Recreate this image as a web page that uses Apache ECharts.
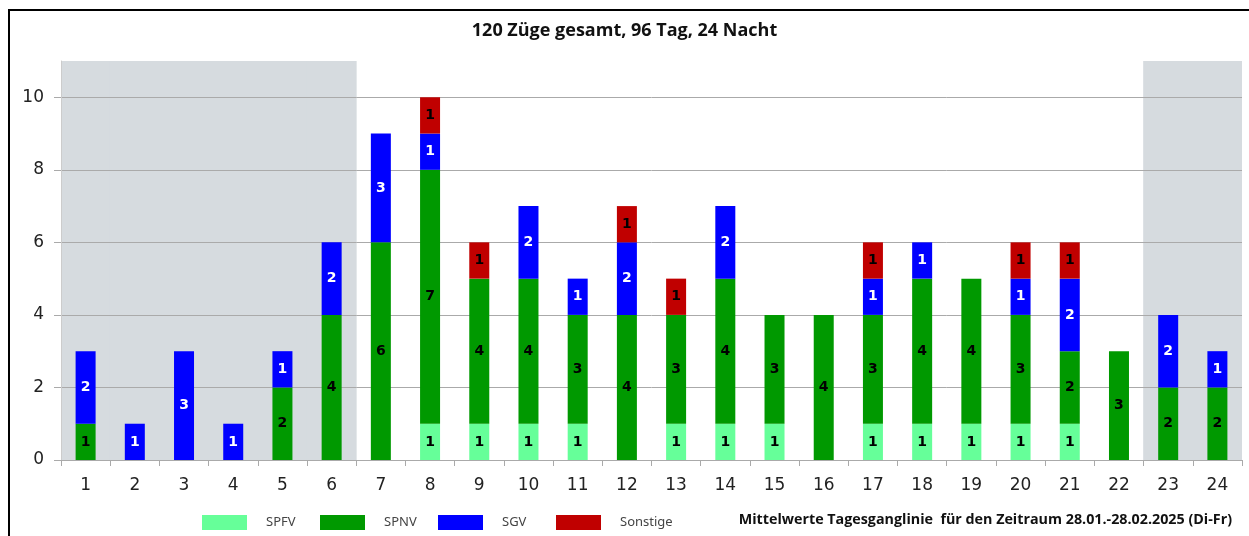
<!DOCTYPE html>
<html>
<head>
<meta charset="utf-8">
<script src="https://cdn.jsdelivr.net/npm/echarts@6/dist/echarts.min.js"></script>
<style>
  html, body { margin: 0; padding: 0; background: #fff; }
  #chart { width: 1249px; height: 536px; }
</style>
</head>
<body>
<div id="chart"></div>
<script>
// hours of the day
var hours = ['1','2','3','4','5','6','7','8','9','10','11','12','13','14','15','16','17','18','19','20','21','22','23','24'];
// trains per hour, by type
var spfv     = [0,0,0,0,0,0,0,1,1,1,1,0,1,1,1,0,1,1,1,1,1,0,0,0];
var spnv     = [1,0,0,0,2,4,6,7,4,4,3,4,3,4,3,4,3,4,4,3,2,3,2,2];
var sgv      = [2,1,3,1,1,2,3,1,0,2,1,2,0,2,0,0,1,1,0,1,2,0,2,1];
var sonstige = [0,0,0,0,0,0,0,1,1,0,0,1,1,0,0,0,1,0,0,1,1,0,0,0];
var nightHours = ['1','2','3','4','5','6','23','24'];
var yTicks = [0, 2, 4, 6, 8, 10];
var yMax = 11;
var legendNames = ['SPFV', 'SPNV', 'SGV', 'Sonstige'];

var chart = echarts.init(document.getElementById('chart'));

function stackSeries(name, data, color, labelColor) {
  return {
    name: name,
    type: 'bar',
    stack: 'total',
    barWidth: 20,
    data: data,
    itemStyle: { color: color },
    label: {
      show: true,
      position: 'inside',
      color: labelColor,
      fontFamily: 'DejaVu Sans',
      fontWeight: 'bold',
      fontSize: 14,
      formatter: function (p) { return p.value ? p.value : ''; }
    },
    z: 2
  };
}

var nightData = hours.map(function (h) { return nightHours.indexOf(h) >= 0 ? yMax : 0; });

// one legend per entry so the spacing stays even like the original
var legends = legendNames.map(function (n, i) {
  return {
    left: 197 + i * 118,
    top: 510,
    itemWidth: 45,
    itemHeight: 15,
    icon: 'rect',
    data: [n],
    textStyle: { fontFamily: 'Noto Sans', fontSize: 13, color: '#444', padding: [0, 0, 0, 14] }
  };
});

var option = {
  animation: false,
  title: {
    text: '120 Züge gesamt, 96 Tag, 24 Nacht',
    left: 'center',
    top: 17,
    textStyle: { fontFamily: 'Open Sans', fontWeight: 'bold', fontSize: 18, color: '#111' }
  },
  grid: { left: 61, right: 7, top: 61, bottom: 76 },
  legend: legends,
  xAxis: [{
    type: 'category',
    data: hours,
    z: 1,
    axisLine: { lineStyle: { color: '#aaa' } },
    axisTick: { show: true, length: 6, lineStyle: { color: '#aaa' } },
    axisLabel: { margin: 17, fontFamily: 'DejaVu Sans', fontSize: 17, color: '#222' }
  }, {
    type: 'category',
    data: hours,
    show: false
  }],
  yAxis: {
    type: 'value',
    min: 0,
    max: yMax,
    interval: 2,
    z: 1,
    axisLine: { show: true, lineStyle: { color: '#ccc' } },
    axisTick: { show: true, length: 7, lineStyle: { color: '#aaa' } },
    axisLabel: {
      margin: 17, fontFamily: 'DejaVu Sans', fontSize: 17, color: '#222', showMaxLabel: false,
      formatter: function (v) { return yTicks.indexOf(v) >= 0 ? v : ''; }
    },
    splitLine: { show: true, showMaxLine: false, lineStyle: { color: '#aaa' } }
  },
  graphic: [{
    type: 'rect',
    shape: { x: 9, y: 10, width: 1300, height: 600 },
    style: { fill: 'none', stroke: '#000', lineWidth: 2 },
    silent: true
  }, {
    type: 'text',
    right: 17,
    top: 513,
    style: {
      text: 'Mittelwerte Tagesganglinie  für den Zeitraum 28.01.-28.02.2025 (Di-Fr)',
      fontFamily: 'Open Sans', fontWeight: 'bold', fontSize: 14.3, fill: '#111'
    }
  }],
  series: [
    {
      name: 'Nacht',
      type: 'bar',
      xAxisIndex: 1,
      barWidth: 50,
      data: nightData,
      itemStyle: { color: '#d6dbdf' },
      silent: true,
      z: 0
    },
    stackSeries('SPFV', spfv, '#66ff99', '#000'),
    stackSeries('SPNV', spnv, '#009900', '#000'),
    stackSeries('SGV', sgv, '#0000ff', '#fff'),
    stackSeries('Sonstige', sonstige, '#c00000', '#000')
  ]
};

chart.setOption(option);
</script>
</body>
</html>
